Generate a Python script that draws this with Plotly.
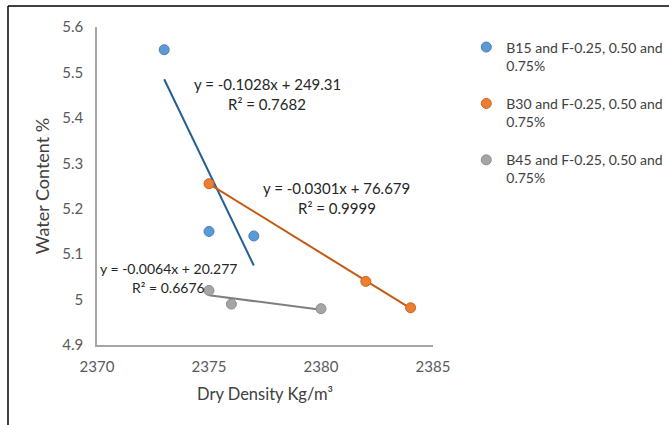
import numpy as np
import plotly.graph_objects as go

# ---- data ----
series_names = [
    "B15 and F-0.25, 0.50 and<br>0.75%",
    "B30 and F-0.25, 0.50 and<br>0.75%",
    "B45 and F-0.25, 0.50 and<br>0.75%",
]
b15_x = [2373, 2375, 2377]
b15_y = [5.55, 5.15, 5.14]
b30_x = [2375, 2382, 2384]
b30_y = [5.255, 5.04, 4.982]
b45_x = [2375, 2376, 2380]
b45_y = [5.02, 4.99, 4.98]
equations = ["y = -0.1028x + 249.31", "y = -0.0301x + 76.679", "y = -0.0064x + 20.277"]
r2_labels = ["R² = 0.7682", "R² = 0.9999", "R² = 0.6676"]
x_ticks = [2370, 2375, 2380, 2385]
y_ticks = [4.9, 5.0, 5.1, 5.2, 5.3, 5.4, 5.5, 5.6]
y_ticktext = ["4.9", "5", "5.1", "5.2", "5.3", "5.4", "5.5", "5.6"]

marker_fill = ["#5B9BD5", "#ED7D31", "#A5A5A5"]
marker_edge = ["#4A80B5", "#C9661F", "#8C8C8C"]
trend_col = ["#255E91", "#C55A11", "#7F7F7F"]

FONT = "Lato, 'Open Sans', sans-serif"

fig = go.Figure()
all_x = [b15_x, b30_x, b45_x]
all_y = [b15_y, b30_y, b45_y]

for i, (xs, ys) in enumerate(zip(all_x, all_y)):
    m, c = np.polyfit(xs, ys, 1)
    tx = np.array([min(xs), max(xs)], dtype=float)
    fig.add_trace(go.Scatter(x=tx, y=m * tx + c, mode="lines",
                             line=dict(color=trend_col[i], width=2),
                             showlegend=False, hoverinfo="skip"))

for i, (xs, ys) in enumerate(zip(all_x, all_y)):
    fig.add_trace(go.Scatter(x=xs, y=ys, mode="markers", name=series_names[i],
                             legendgroup=f"g{i}",
                             marker=dict(size=10, color=marker_fill[i],
                                         line=dict(color=marker_edge[i], width=1))))

# equation annotations (two lines each)
ann_pos = [(2377.59, 5.474, 5.430, 15), (2380.71, 5.246, 5.202, 15), (2373.17, 5.069, 5.027, 14)]
for i, (ax, y1, y2, fs) in enumerate(ann_pos):
    fig.add_annotation(x=ax, y=y1, text=equations[i], showarrow=False,
                       xanchor="center", yanchor="middle",
                       font=dict(family=FONT, size=fs, color="#262626"))
    fig.add_annotation(x=ax, y=y2, text=r2_labels[i], showarrow=False,
                       xanchor="center", yanchor="middle",
                       font=dict(family=FONT, size=fs, color="#262626"))

# chart border (left and top visible)
fig.add_shape(type="line", xref="paper", yref="paper", x0=-0.2649, x1=-0.2649,
              y0=1.066, y1=-0.30, line=dict(color="black", width=1.5))
fig.add_shape(type="line", xref="paper", yref="paper", x0=-0.2649, x1=1.75,
              y0=1.066, y1=1.066, line=dict(color="black", width=1.5))

fig.update_layout(
    width=669, height=425,
    margin=dict(l=97, r=236, t=27, b=80, autoexpand=False),
    paper_bgcolor="white", plot_bgcolor="white",
    font=dict(family=FONT, size=13, color="#595959"),
    showlegend=True,
    legend=dict(xref="container", yref="container", x=0.697, y=0.926,
                xanchor="left", yanchor="top",
                font=dict(family=FONT, size=14, color="#404040"),
                tracegroupgap=17, itemwidth=30, valign="top",
                bgcolor="rgba(0,0,0,0)"),
    xaxis=dict(range=[2370, 2385], tickvals=x_ticks, showgrid=False, zeroline=False,
               showline=True, linecolor="#A6A6A6", linewidth=1.5, ticks="",
               ticklabelstandoff=7, automargin=False,
               tickfont=dict(family=FONT, size=15, color="#595959"),
               title=dict(text="Dry Density Kg/m³", standoff=15,
                          font=dict(family=FONT, size=16.5, color="#404040"))),
    yaxis=dict(range=[4.9, 5.6], tickvals=y_ticks, ticktext=y_ticktext, showgrid=False,
               zeroline=False, showline=True, linecolor="#A6A6A6", linewidth=1.5,
               ticks="", ticklabelstandoff=9, automargin=False,
               tickfont=dict(family=FONT, size=15, color="#595959"),
               title=dict(text="Water Content %", standoff=8,
                          font=dict(family=FONT, size=18, color="#404040"))),
)

fig.write_html("out.html", config={"displayModeBar": False},
               post_script="document.body.style.margin='0px';")
